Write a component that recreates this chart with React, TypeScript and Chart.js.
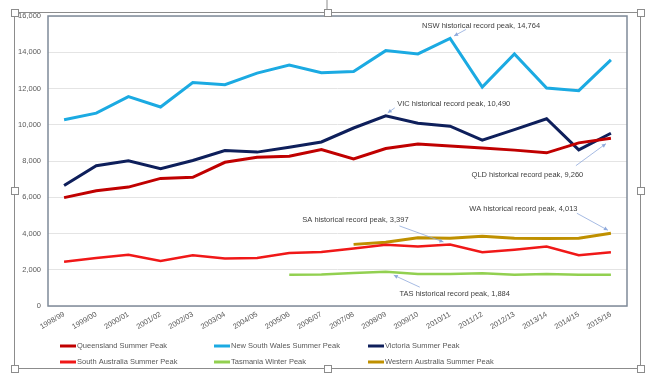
import React, { useEffect, useRef } from 'react';
import { Chart, registerables } from 'chart.js';

Chart.register(...registerables);

const categories = [
  '1998/99', '1999/00', '2000/01', '2001/02', '2002/03', '2003/04', '2004/05', '2005/06', '2006/07',
  '2007/08', '2008/09', '2009/10', '2010/11', '2011/12', '2012/13', '2013/14', '2014/15', '2015/16',
];

const queensland = [5980, 6360, 6560, 7040, 7100, 7930, 8210, 8265, 8630, 8120, 8690, 8940, 8830, 8720, 8600, 8450, 9000, 9260];
const newSouthWales = [10280, 10640, 11550, 10980, 12330, 12210, 12850, 13300, 12870, 12940, 14090, 13910, 14764, 12080, 13910, 12030, 11880, 13580];
const victoria = [6650, 7740, 8010, 7570, 8030, 8580, 8490, 8760, 9050, 9820, 10490, 10080, 9920, 9150, 9730, 10330, 8610, 9530];
const southAustralia = [2440, 2650, 2830, 2490, 2800, 2620, 2650, 2920, 2980, 3170, 3380, 3280, 3397, 2970, 3110, 3280, 2800, 2970];
const tasmania = [null, null, null, null, null, null, null, 1720, 1740, 1820, 1884, 1760, 1760, 1810, 1720, 1760, 1720, 1730];
const westernAustralia = [null, null, null, null, null, null, null, null, null, 3400, 3520, 3760, 3740, 3850, 3740, 3720, 3740, 4013];

const seriesLabels = [
  'Queensland Summer Peak', 'New South Wales Summer Peak', 'Victoria Summer Peak',
  'South Australia Summer Peak', 'Tasmania Winter Peak', 'Western Australia Summer Peak',
];
const seriesColors = ['#C00000', '#1BAAE2', '#0E1F5B', '#F01818', '#92D050', '#BF9000'];

const yTicks = [0, 2000, 4000, 6000, 8000, 10000, 12000, 14000, 16000];

// annotation: dataset index, category index, text
const annotations = [
  { ds: 1, idx: 12, text: 'NSW historical record peak, 14,764' },
  { ds: 2, idx: 10, text: 'VIC historical record peak, 10,490' },
  { ds: 0, idx: 17, text: 'QLD historical record peak, 9,260' },
  { ds: 5, idx: 17, text: 'WA historical record peak, 4,013' },
  { ds: 3, idx: 12, text: 'SA historical record peak, 3,397' },
  { ds: 4, idx: 10, text: 'TAS historical record peak, 1,884' },
];
// label offset and leader line offsets relative to the anchor point (layout only)
const annotationLayout = [
  { lx: 31, ly: -12, ax: 16, ay: -9, bx: 4, by: -2.5 },
  { lx: 68, ly: -12, ax: 9, ay: -8, bx: 2, by: -3 },
  { lx: -83.5, ly: 36.5, ax: -35, ay: 27.5, bx: -5, by: 5.5 },
  { lx: -87.5, ly: -24.3, ax: -34, ay: -20, bx: -3, by: -3 },
  { lx: -94.6, ly: -24.2, ax: -50.6, ay: -18.5, bx: -6.6, by: -2.5 },
  { lx: 69, ly: 22.3, ax: 34, ay: 15.3, bx: 8, by: 3.3 },
];

const FONT = '"Liberation Sans", Arial, sans-serif';

const decorPlugin = {
  id: 'decor',
  beforeDatasetsDraw(chart: any) {
    const { ctx, chartArea } = chart;
    ctx.save();
    ctx.strokeStyle = '#7F8A99';
    ctx.lineWidth = 1.5;
    ctx.strokeRect(chartArea.left, chartArea.top, chartArea.right - chartArea.left, chartArea.bottom - chartArea.top);
    ctx.restore();
  },
  afterDraw(chart: any) {
    const { ctx } = chart;
    ctx.save();
    // annotations
    ctx.font = `7.5px ${FONT}`;
    ctx.fillStyle = '#404040';
    ctx.textAlign = 'center';
    ctx.textBaseline = 'middle';
    annotations.forEach((a, i) => {
      const pt = chart.getDatasetMeta(a.ds).data[a.idx];
      const L = annotationLayout[i];
      ctx.fillText(a.text, pt.x + L.lx, pt.y + L.ly);
      const x1 = pt.x + L.ax, y1 = pt.y + L.ay, x2 = pt.x + L.bx, y2 = pt.y + L.by;
      ctx.strokeStyle = '#8FAADC';
      ctx.lineWidth = 0.8;
      ctx.beginPath();
      ctx.moveTo(x1, y1);
      ctx.lineTo(x2, y2);
      ctx.stroke();
      const ang = Math.atan2(y2 - y1, x2 - x1);
      ctx.fillStyle = '#8FAADC';
      ctx.beginPath();
      ctx.moveTo(x2, y2);
      ctx.lineTo(x2 - 4 * Math.cos(ang) + 2 * Math.sin(ang), y2 - 4 * Math.sin(ang) - 2 * Math.cos(ang));
      ctx.lineTo(x2 - 4 * Math.cos(ang) - 2 * Math.sin(ang), y2 - 4 * Math.sin(ang) + 2 * Math.cos(ang));
      ctx.closePath();
      ctx.fill();
      ctx.fillStyle = '#404040';
    });

    // legend
    const cols = [60, 214, 368];
    const rows = [346, 362];
    ctx.textAlign = 'left';
    ctx.font = `7.5px ${FONT}`;
    seriesLabels.forEach((lab, i) => {
      const x = cols[i % 3];
      const y = rows[Math.floor(i / 3)];
      ctx.strokeStyle = seriesColors[i];
      ctx.lineWidth = 3;
      ctx.beginPath();
      ctx.moveTo(x, y);
      ctx.lineTo(x + 16, y);
      ctx.stroke();
      ctx.fillStyle = '#595959';
      ctx.fillText(lab, x + 17, y);
    });

    // selection frame
    ctx.strokeStyle = '#8C8C8C';
    ctx.lineWidth = 1;
    const L = 14.5, T = 12.5, R = 640.5, B = 368.5;
    ctx.strokeRect(L, T, R - L, B - T);
    ctx.beginPath();
    ctx.moveTo(327, 0);
    ctx.lineTo(327, 9);
    ctx.stroke();
    const handles = [
      [L, T], [(L + R) / 2, T], [R, T], [L, (T + B) / 2], [R, (T + B) / 2], [L, B], [(L + R) / 2, B], [R, B],
    ];
    handles.forEach(([hx, hy]) => {
      ctx.fillStyle = '#FFFFFF';
      ctx.fillRect(Math.round(hx) - 3.5, Math.round(hy) - 3.5, 7, 7);
      ctx.strokeRect(Math.round(hx) - 3.5, Math.round(hy) - 3.5, 7, 7);
    });
    ctx.restore();
  },
};

export default function App() {
  const canvasRef = useRef<HTMLCanvasElement | null>(null);
  useEffect(() => {
    const canvas = canvasRef.current;
    if (!canvas) return;
    const data = [queensland, newSouthWales, victoria, southAustralia, tasmania, westernAustralia];
    const chart = new Chart(canvas, {
      type: 'line',
      data: {
        labels: categories,
        datasets: data.map((d, i) => ({
          label: seriesLabels[i],
          data: d as any,
          borderColor: seriesColors[i],
          backgroundColor: seriesColors[i],
          borderWidth: i === 3 || i === 4 ? 2.5 : 3,
          pointRadius: 0,
          pointHoverRadius: 0,
          tension: 0,
          spanGaps: false,
        })),
      },
      options: {
        responsive: false,
        animation: false,
        events: [],
        layout: { padding: { left: 0, top: 16, right: 20, bottom: 32 } },
        plugins: { legend: { display: false }, tooltip: { enabled: false } },
        scales: {
          x: {
            offset: true,
            grid: { display: false, drawTicks: false },
            border: { display: false },
            ticks: {
              color: '#595959',
              font: { family: FONT, size: 7.5 },
              maxRotation: 30,
              minRotation: 30,
              autoSkip: false,
              padding: 4,
            },
            afterFit: (s: any) => { s.height = 40; },
          },
          y: {
            min: 0,
            max: 16000,
            afterBuildTicks: (s: any) => { s.ticks = yTicks.map((v) => ({ value: v })); },
            grid: { color: '#E4E4E4', lineWidth: 1, drawTicks: false },
            border: { display: false },
            ticks: {
              color: '#595959',
              font: { family: FONT, size: 7.5 },
              padding: 7,
              callback: (v: any) => Number(v).toLocaleString('en-US'),
            },
            afterFit: (s: any) => { s.width = 48; },
          },
        },
      },
      plugins: [decorPlugin],
    });
    return () => chart.destroy();
  }, []);
  return (
    <div style={{ position: 'absolute', left: 0, top: 0, width: 647, height: 378, background: '#fff' }}>
      <canvas ref={canvasRef} width={647} height={378} style={{ display: 'block' }} />
    </div>
  );
}
